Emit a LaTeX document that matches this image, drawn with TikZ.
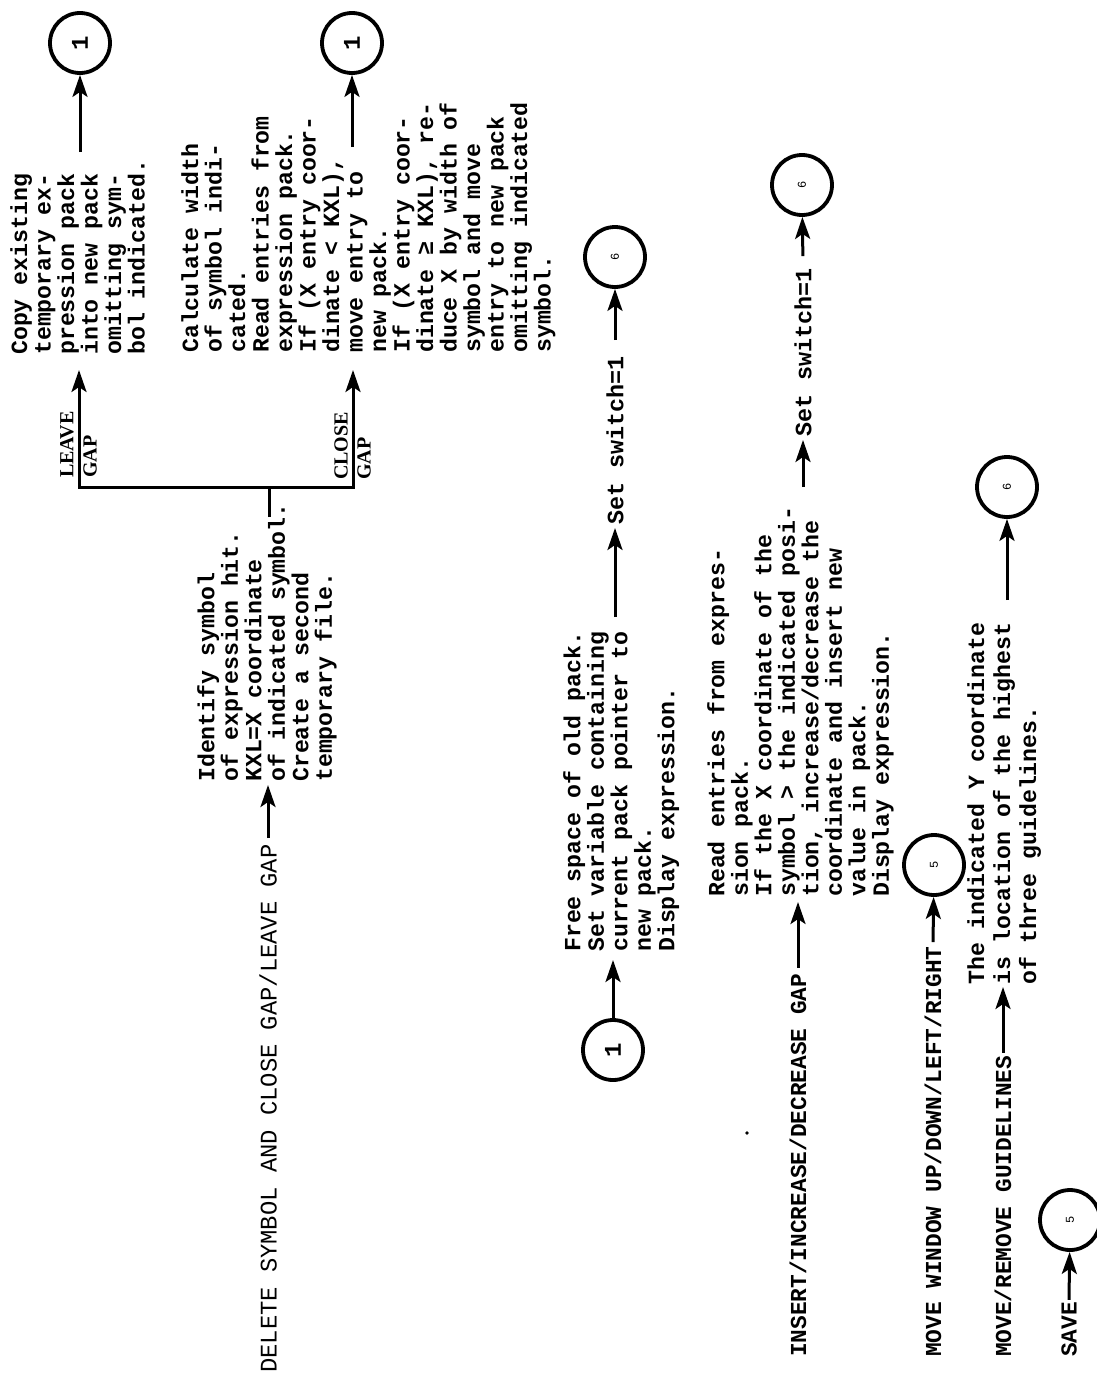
\documentclass[tikz,border=0pt]{standalone}
\usepackage{fontspec}
\usetikzlibrary{arrows.meta}
\newfontfamily\bodyfont{Liberation Mono}
\newfontfamily\labfont{Liberation Serif}
\begin{document}
\begin{tikzpicture}[x=1pt,y=1pt,
  blk/.style={rotate=90,anchor=north west,inner sep=0,align=left,
    font=\bodyfont\bfseries\fontsize{23.2}{23.5}\selectfont},
  lbl/.style={rotate=90,anchor=west,inner sep=0,
    font=\bodyfont\bfseries\fontsize{22.8}{23}\selectfont},
  gaplbl/.style={rotate=90,anchor=west,inner sep=0,
    font=\labfont\bfseries\fontsize{20}{20}\selectfont},
  conn/.style={circle,draw,line width=3.8pt,minimum size=60pt,inner sep=0,rotate=90,
    font=\bodyfont\bfseries\fontsize{24}{24}\selectfont},
  smallconn/.style={conn,font=\bodyfont\fontsize{12}{12}\selectfont},
  arr/.style={line width=3pt,line join=miter,-{Stealth[length=22pt,width=15pt,inset=5pt]}},
  ln/.style={line width=3pt}
]
\useasboundingbox (0,0) rectangle (1096,-1381);
\fill[white] (0,0) rectangle (1096,-1381);

% connector circles
\node[conn] (c1a) at (80,-43) {1};
\node[conn] (c1b) at (352,-43) {1};
\node[conn] (c1c) at (613,-1050) {1};
\node[smallconn] (c6a) at (615,-257) {6};
\node[smallconn] (c6b) at (802,-185) {6};
\node[smallconn] (c6c) at (1007,-487) {6};
\node[smallconn] (c5a) at (934,-865) {5};
\node[smallconn] (c5b) at (1070,-1220) {5};

% text blocks
\node[blk] (copy) at (10,-355) {Copy existing\\
temporary ex-\\
pression pack\\
into new pack\\
omitting sym-\\
bol indicated.};

\node[blk] (calc) at (181,-353) {Calculate width\\
of symbol indi-\\
cated.\\
Read entries from\\
expression pack.\\
If (X entry coor-\\
dinate < KXL),\\
move entry to\\
new pack.\\
If (X entry coor-\\
dinate ≥ KXL), re-\\
duce X by width of\\
symbol and move\\
entry to new pack\\
omitting indicated\\
symbol.};

\node[blk] (ident) at (197,-782) {Identify symbol\\
of expression hit.\\
KXL=X coordinate\\
of indicated symbol.\\
Create a second\\
temporary file.};

\node[blk] (free) at (563,-952) {Free space of old pack.\\
Set variable containing\\
current pack pointer to\\
new pack.\\
Display expression.};

\node[blk] (read) at (707,-897) {Read entries from expres-\\
sion pack.\\
If the X coordinate of the\\
symbol > the indicated posi-\\
tion, increase/decrease the\\
coordinate and insert new\\
value in pack.\\
Display expression.};

\node[blk,font=\bodyfont\bfseries\fontsize{23.2}{26}\selectfont] (guide) at (967,-985) {The indicated Y coordinate\\
is location of the highest\\
of three guidelines.};

% single-line labels
\node[lbl,font=\bodyfont\bfseries\fontsize{23.4}{23}\selectfont] (sw1) at (615,-525) {Set switch=1};
\node[lbl,font=\bodyfont\bfseries\fontsize{23.4}{23}\selectfont] (sw2) at (803,-437) {Set switch=1};
\node[lbl,font=\bodyfont\fontsize{23.8}{24}\selectfont] (del) at (268,-1373) {DELETE SYMBOL AND CLOSE GAP/LEAVE GAP};
\node[lbl] (ins) at (798,-1357) {INSERT/INCREASE/DECREASE GAP};
\node[lbl] (mvw) at (933,-1357) {MOVE WINDOW UP/DOWN/LEFT/RIGHT};
\node[lbl] (mvg) at (1003,-1357) {MOVE/REMOVE GUIDELINES};
\node[lbl] (save) at (1069,-1357) {SAVE};

\node[gaplbl] (leave) at (67,-478) {LEAVE};
\node[gaplbl] (gapl) at (90,-478) {GAP};
\node[gaplbl] (close) at (341,-480) {CLOSE};
\node[gaplbl] (gapc) at (364,-480) {GAP};

% coordinates
\coordinate (stub) at (269,-517);
\coordinate (brM) at (269,-487);
\coordinate (tL) at (79,-370);
\coordinate (tR) at (353,-370);
\coordinate (p1) at (80,-152);
\coordinate (p2) at (352,-147);
\coordinate (q3) at (268,-785);
\coordinate (q5) at (613,-960);
\coordinate (p6) at (615,-617);
\coordinate (q8) at (798,-902);
\coordinate (p9) at (803,-487);
\coordinate (q12) at (1003,-987);
\coordinate (p13) at (1007,-600);

% connectors
\draw[ln] (stub) -- (brM);
\draw[arr] (brM) -| (tL);
\draw[arr] (brM) -| (tR);
\draw[arr] (p1) -- (c1a);
\draw[arr] (p2) -- (c1b);
\draw[arr,shorten <=6pt] (del.east) -- (q3);
\draw[arr] (c1c) -- (q5);
\draw[arr,shorten >=3pt] (p6) -- (sw1.west);
\draw[arr,shorten <=16pt] (sw1.east) -- (c6a);
\draw[arr,shorten <=6pt] (ins.east) -- (q8);
\draw[arr,shorten >=3pt] (p9) -- (sw2.west);
\draw[arr,shorten <=12pt] (sw2.east) -- (c6b);
\draw[arr,shorten <=4pt] (mvw.east) -- (c5a);
\draw[arr,shorten <=3pt] (mvg.east) -- (q12);
\draw[arr] (p13) -- (c6c);
\draw[arr,shorten <=2pt] (save.east) -- (c5b);

% stray dot
\fill (747,-1133) circle (1.8);
\end{tikzpicture}
\end{document}
